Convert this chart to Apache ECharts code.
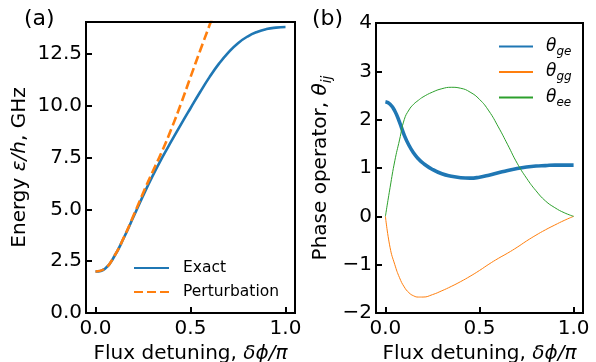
<!DOCTYPE html>
<html>
<head>
<meta charset="utf-8">
<script src="https://cdn.jsdelivr.net/npm/echarts@6/dist/echarts.min.js"></script>
<style>
  html, body { margin: 0; padding: 0; background: #fff; }
  #chart { width: 596px; height: 362px; }
</style>
</head>
<body>
<div id="chart"></div>
<script>
// panel (a): energy vs flux detuning
var fluxA = [0, 0.05, 0.1, 0.15, 0.2, 0.25, 0.3, 0.35, 0.4, 0.45, 0.5, 0.55, 0.6, 0.65, 0.7, 0.75, 0.8, 0.85, 0.9, 0.95, 1.0]
var exact = [2.0, 2.14, 2.75, 3.64, 4.64, 5.65, 6.6, 7.48, 8.3, 9.1, 9.88, 10.65, 11.38, 12.03, 12.58, 13.02, 13.34, 13.56, 13.7, 13.77, 13.8]
var fluxP = [0, 0.05, 0.1, 0.15, 0.2, 0.25, 0.3, 0.35, 0.4, 0.45, 0.5, 0.55, 0.6, 0.65]
var perturbation = [2.0, 2.14, 2.76, 3.66, 4.7, 5.78, 6.8, 7.8, 8.9, 10.1, 11.38, 12.64, 13.88, 15.1]

// panel (b): phase operator
var fluxB = [0, 0.025, 0.05, 0.075, 0.1, 0.125, 0.15, 0.175, 0.2, 0.25, 0.3, 0.35, 0.4, 0.45, 0.5, 0.55, 0.6, 0.65, 0.7, 0.75, 0.8, 0.85, 0.9, 0.95, 1.0]
var thetaGe = [2.37, 2.32, 2.18, 1.95, 1.68, 1.47, 1.31, 1.19, 1.1, 0.97, 0.88, 0.83, 0.8, 0.79, 0.81, 0.85, 0.9, 0.95, 0.99, 1.02, 1.04, 1.05, 1.06, 1.06, 1.06]
var thetaGg = [0, -0.65, -1.0, -1.27, -1.46, -1.58, -1.645, -1.67, -1.67, -1.62, -1.54, -1.45, -1.35, -1.24, -1.12, -0.99, -0.87, -0.76, -0.64, -0.51, -0.39, -0.28, -0.18, -0.085, 0]
var thetaEe = [0, 0.6, 1.15, 1.58, 2.0, 2.2, 2.32, 2.4, 2.47, 2.57, 2.64, 2.67, 2.65, 2.57, 2.42, 2.18, 1.85, 1.48, 1.1, 0.79, 0.53, 0.32, 0.18, 0.075, 0]

var xTicks = [0, 0.5, 1]
var yTicksA = [0, 2.5, 5, 7.5, 10, 12.5]

// axis extents
var X_RANGE = [-0.05, 1.05]
var Y_RANGE_A = [0, 14.04]
var Y_RANGE_B = [-2, 4]

var FONT = 'DejaVu Sans'
var BLUE = '#1f77b4', ORANGE = '#ff7f0e', GREEN = '#2ca02c'

function frame() {
  return { show: true, onZero: false, lineStyle: { color: '#000', width: 2 } }
}

// hidden helper axes whose two split lines sit on the panel edges
function edgeAxis(idx, pos) {
  return {
    type: 'value', gridIndex: idx, position: pos, min: 0, max: 1, interval: 1,
    axisLine: frame(), axisTick: { show: false }, axisLabel: { show: false },
    splitLine: { show: true, showMinLine: true, showMaxLine: true, lineStyle: { color: '#000', width: 2 } },
  }
}

// box outline traced through the axis scales
function boxSeries(idx, xr, yr) {
  return {
    type: 'custom', xAxisIndex: idx, yAxisIndex: idx, silent: true, clip: false, z: 5,
    data: [[xr[0], yr[0]]],
    renderItem: function(params, api) {
      var a = api.coord([xr[0], yr[0]])
      var b = api.coord([xr[1], yr[1]])
      return {
        type: 'polyline',
        shape: { points: [[a[0], a[1]], [b[0], a[1]], [b[0], b[1]], [a[0], b[1]], [a[0], a[1]]] },
        style: { fill: null, stroke: '#000', lineWidth: 2 },
      }
    },
  }
}

function pairs(xs, ys) {
  return xs.map(function(x, i) { return [x, ys[i]] })
}

function tickStyle(values) {
  var t = { inside: true, length: 6, lineStyle: { color: '#000', width: 2 } }
  if (values) t.customValues = values
  return t
}

function xAxis(idx) {
  return {
    type: 'value',
    gridIndex: idx,
    min: X_RANGE[0],
    max: X_RANGE[1],
    name: 'Flux detuning, {i|δϕ/π}',
    nameLocation: 'middle',
    nameGap: 23,
    nameTextStyle: {
      fontSize: 20, color: '#000', fontFamily: FONT, verticalAlign: 'top',
      rich: { i: { fontSize: 20, fontStyle: 'italic', fontFamily: FONT, color: '#000' } },
    },
    splitLine: { show: false },
    axisLine: frame(),
    axisTick: tickStyle(xTicks),
    axisLabel: {
      customValues: xTicks,
      formatter: function(v) { return v.toFixed(1) },
      fontSize: 20, color: '#000', fontFamily: FONT, margin: 6,
    },
  }
}

var chart = echarts.init(document.getElementById('chart'))

var option = {
  animation: false,
  title: [
    { text: '(a)', left: 19, top: 3, textStyle: { fontSize: 22, fontWeight: 'normal', fontFamily: FONT, color: '#000' } },
    { text: '(b)', left: 307, top: 3, textStyle: { fontSize: 22, fontWeight: 'normal', fontFamily: FONT, color: '#000' } },
  ],
  grid: [
    { left: 86, top: 22, width: 209, height: 291, outerBoundsMode: 'none', containLabel: false },
    { left: 376, top: 23, width: 207, height: 290, outerBoundsMode: 'none', containLabel: false },
  ],
  legend: [
    {
      orient: 'vertical', left: 128, top: 255, itemWidth: 35, itemHeight: 14, itemGap: 8,
      itemStyle: { opacity: 0, borderWidth: 0 },
      textStyle: { fontSize: 15.5, fontFamily: FONT, color: '#000', padding: [0, 0, 0, 9] },
      data: ['Exact', 'Perturbation'],
    },
    {
      orient: 'vertical', left: 493, top: 33, itemWidth: 34, itemHeight: 14, itemGap: 6,
      itemStyle: { opacity: 0, borderWidth: 0 },
      textStyle: {
        fontSize: 16, fontFamily: FONT, color: '#000', padding: [0, 0, 0, 8],
        rich: {
          t: { fontSize: 17, fontStyle: 'italic', fontFamily: FONT, color: '#000', lineHeight: 22 },
          s: { fontSize: 12, fontStyle: 'italic', fontFamily: FONT, color: '#000', lineHeight: 12, verticalAlign: 'bottom' },
        },
      },
      formatter: function(name) { return '{t|θ}{s|' + name.slice(1) + '}' },
      data: ['θge', 'θgg', 'θee'],
    },
  ],
  xAxis: [xAxis(0), xAxis(1), edgeAxis(0, 'top'), edgeAxis(1, 'top')],
  yAxis: [
    {
      type: 'value', gridIndex: 0, min: Y_RANGE_A[0], max: Y_RANGE_A[1],
      name: 'Energy {i|ε/h}, GHz', nameLocation: 'middle', nameGap: 56,
      nameTextStyle: {
        fontSize: 20, color: '#000', fontFamily: FONT,
        rich: { i: { fontSize: 20, fontStyle: 'italic', fontFamily: FONT, color: '#000' } },
      },
      splitLine: { show: false },
      axisLine: frame(),
      axisTick: tickStyle(yTicksA),
      axisLabel: {
        customValues: yTicksA,
        formatter: function(v) { return v.toFixed(1) },
        fontSize: 20, color: '#000', fontFamily: FONT, margin: 4,
      },
    },
    {
      type: 'value', gridIndex: 1, min: Y_RANGE_B[0], max: Y_RANGE_B[1], interval: 1,
      name: 'Phase operator, {i|θ}{s|ij}', nameLocation: 'middle', nameGap: 42,
      nameTextStyle: {
        fontSize: 20, color: '#000', fontFamily: FONT,
        rich: {
          i: { fontSize: 20, fontStyle: 'italic', fontFamily: FONT, color: '#000', lineHeight: 26 },
          s: { fontSize: 14, fontStyle: 'italic', fontFamily: FONT, color: '#000', lineHeight: 14, verticalAlign: 'bottom' },
        },
      },
      splitLine: { show: false },
      axisLine: frame(),
      axisTick: tickStyle(null),
      axisLabel: {
        formatter: function(v) { return v < 0 ? '\u2212' + (-v) : '' + v },
        fontSize: 20, color: '#000', fontFamily: FONT, margin: 4,
      },
    },
    edgeAxis(0, 'right'),
    edgeAxis(1, 'right'),
  ],
  series: [
    {
      name: 'Exact', type: 'line', xAxisIndex: 0, yAxisIndex: 0,
      data: pairs(fluxA, exact), symbol: 'none', smooth: 0.5,
      lineStyle: { color: BLUE, width: 2.6 }, itemStyle: { color: BLUE },
    },
    {
      name: 'Perturbation', type: 'line', xAxisIndex: 0, yAxisIndex: 0,
      data: pairs(fluxP, perturbation), symbol: 'none', smooth: 0.5,
      lineStyle: { color: ORANGE, width: 2.6, type: [9, 4] }, itemStyle: { color: ORANGE },
    },
    {
      name: 'θge', type: 'line', xAxisIndex: 1, yAxisIndex: 1,
      data: pairs(fluxB, thetaGe), symbol: 'none', smooth: 0.5,
      lineStyle: { color: BLUE, width: 3.6 }, itemStyle: { color: BLUE },
    },
    {
      name: 'θgg', type: 'line', xAxisIndex: 1, yAxisIndex: 1,
      data: pairs(fluxB, thetaGg), symbol: 'none', smooth: 0.5,
      lineStyle: { color: ORANGE, width: 1 }, itemStyle: { color: ORANGE },
    },
    {
      name: 'θee', type: 'line', xAxisIndex: 1, yAxisIndex: 1,
      data: pairs(fluxB, thetaEe), symbol: 'none', smooth: 0.5,
      lineStyle: { color: GREEN, width: 1 }, itemStyle: { color: GREEN },
    },
    boxSeries(0, X_RANGE, Y_RANGE_A),
    boxSeries(1, X_RANGE, Y_RANGE_B),
  ],
}

chart.setOption(option)
</script>
</body>
</html>
